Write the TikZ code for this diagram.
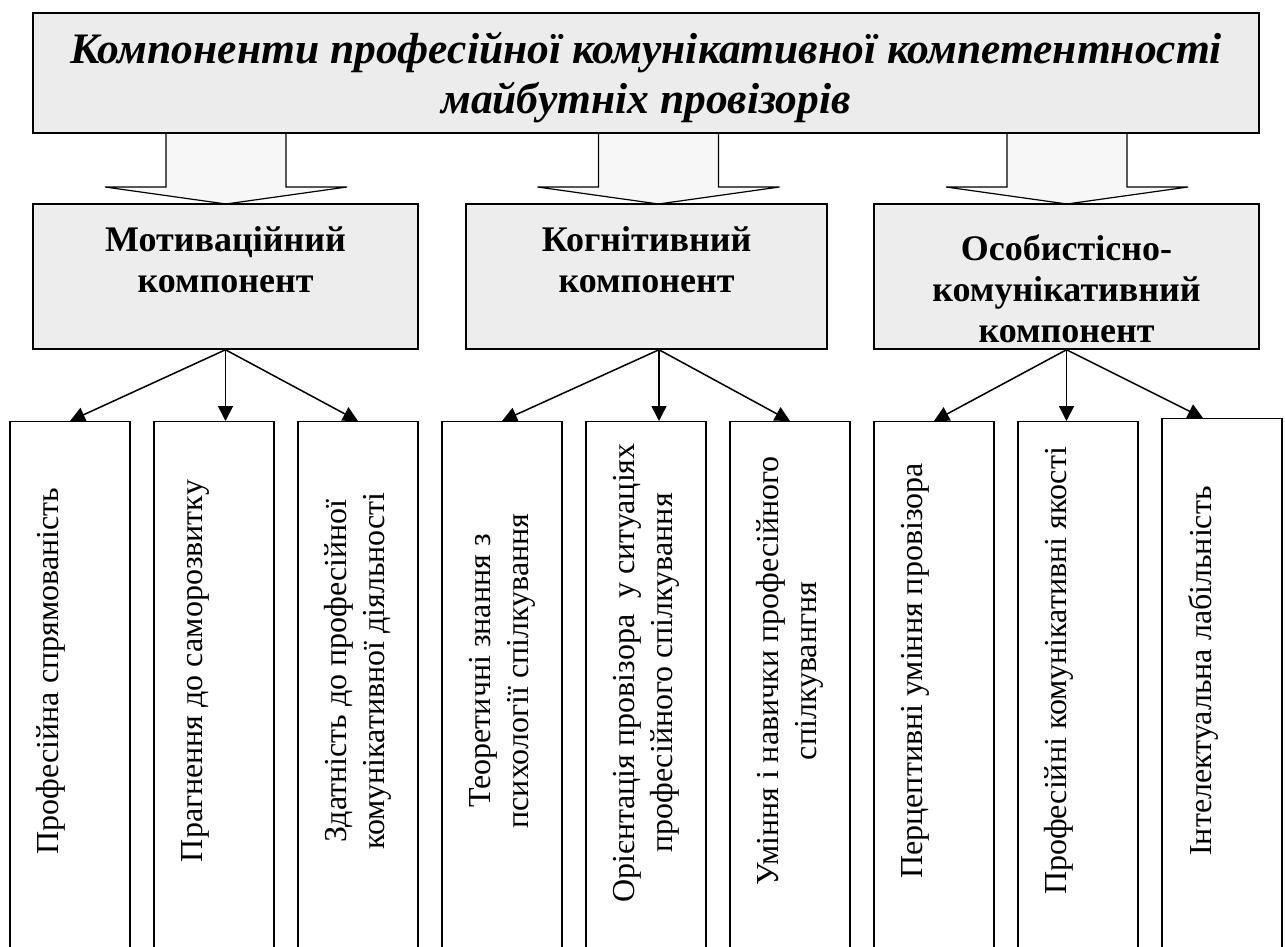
\documentclass[tikz,border=0pt]{standalone}
\usepackage{fontspec}
\setmainfont{Liberation Serif}
\usetikzlibrary{calc,positioning,arrows.meta}

\begin{document}
\begin{tikzpicture}[x=1pt,y=-1pt,>={Triangle[length=15pt,width=15pt]},
  topbox/.style={draw,line width=1.5pt,fill=gray!15,minimum width=1226pt,minimum height=120pt,align=center,text depth=0pt,font=\fontsize{43.5}{50}\selectfont\bfseries\itshape},
  compbox/.style={draw,line width=1.5pt,fill=gray!14,minimum height=145pt},
  comptext/.style={anchor=north,inner sep=0pt,align=center,font=\fontsize{36}{41}\selectfont\bfseries},
  leaf/.style={draw,line width=1.2pt,fill=white,minimum width=120pt,minimum height=560pt,anchor=north},
  leaftext/.style={rotate=90,align=center,inner sep=0pt,font=\fontsize{32}{38}\selectfont},
  blockarr/.style={draw,line width=1.2pt,fill=gray!6},
  link/.style={->,line width=1.5pt}]
  \useasboundingbox (0,0) rectangle (1285,947);

  % wide arrows under the title
  \foreach \c in {226,658.5,1067}
    \draw[blockarr] (\c-60,133) -- (\c-60,187) -- (\c-121,187) -- (\c,204) -- (\c+121,187) -- (\c+60,187) -- (\c+60,133);

  \node[topbox] (title) at (646,73) {Компоненти професійної комунікативної компетентності\\майбутніх провізорів};

  % components
  \node[compbox,minimum width=385pt] (mot) at (225.5,276.5) {};
  \node[compbox,minimum width=361pt] (kog) at (646.5,276.5) {};
  \node[compbox,minimum width=385pt] (osob) at (1066.5,276.5) {};
  \node[comptext] (motT) at ($(mot.north)+(0,23)$) {Мотиваційний\\компонент};
  \node[comptext] (kogT) at ($(kog.north)+(0,23)$) {Когнітивний\\компонент};
  \node[comptext] (osobT) at ($(osob.north)+(0,31)$) {Особистісно-\\комунікативний\\компонент};

  % leaves
  \node[leaf] (l1) at (70,421) {};
  \node[leaf] (l2) at (214,421) {};
  \node[leaf] (l3) at (358,421) {};
  \node[leaf] (l4) at (502,421) {};
  \node[leaf] (l5) at (646,421) {};
  \node[leaf] (l6) at (790,421) {};
  \node[leaf] (l7) at (934,421) {};
  \node[leaf] (l8) at (1078,421) {};
  \node[leaf] (l9) at (1222,418) {};

  \node[leaftext] (t1) at ($(l1.north)+(-19,250)$) {Професійна спрямованість};
  \node[leaftext] (t2) at ($(l2.north)+(-19,250)$) {Прагнення до саморозвитку};
  \node[leaftext] (t3) at ($(l3.north)+(0,250)$) {Здатність до професійної\\комунікативної діяльності};
  \node[leaftext] (t4) at ($(l4.north)+(0,250)$) {Теоретичні знання з\\психології спілкування};
  \node[leaftext] (t5) at ($(l5.north)+(0,252)$) {Орієнтація провізора\ \ у ситуаціях\\професійного спілкування};
  \node[leaftext] (t6) at ($(l6.north)+(0,250)$) {Уміння і навички професійного\\спілкувангня};
  \node[leaftext] (t7) at ($(l7.north)+(-19,250)$) {Перцептивні уміння провізора};
  \node[leaftext] (t8) at ($(l8.north)+(-19,250)$) {Професійні комунікативні якості};
  \node[leaftext] (t9) at ($(l9.north)+(-19,253)$) {Інтелектуальна лабільність};

  % links
  \coordinate (kogS) at ($(kog.south)+(12.5,0)$);
  \draw[link] (mot.south) -- (l1.north);
  \draw[link] (mot.south) -- (mot.south |- l2.north);
  \draw[link] (mot.south) -- (l3.north);
  \draw[link] (kogS) -- (l4.north);
  \draw[link] (kogS) -- (kogS |- l5.north);
  \draw[link] (kogS) -- (l6.north);
  \draw[link] (osob.south) -- (l7.north);
  \draw[link] (osob.south) -- (osob.south |- l8.north);
  \draw[link] (osob.south) -- ($(l9.north)+(-19,0)$);
\end{tikzpicture}
\end{document}
